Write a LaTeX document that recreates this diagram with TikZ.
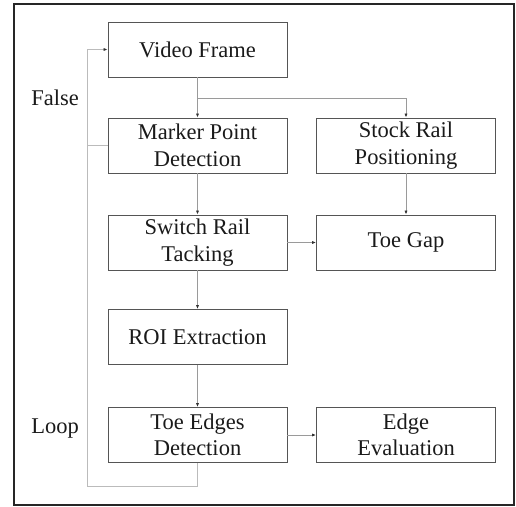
\documentclass[tikz,border=0pt]{standalone}
\usepackage{fontspec}
\setmainfont{Liberation Serif}
\usetikzlibrary{arrows.meta}
\definecolor{boxline}{HTML}{555555}
\definecolor{conn}{HTML}{9A9A9A}
\definecolor{loopc}{HTML}{BBBBBB}
\definecolor{txt}{HTML}{1A1A1A}
\begin{document}
\begin{tikzpicture}[x=1pt,y=-1pt,
  stepbox/.style={draw=boxline,line width=0.9pt,rectangle,minimum width=179pt,minimum height=55pt,
    align=center,inner sep=0pt,text=txt,font=\fontsize{22.5}{26.5}\selectfont},
  lbl/.style={text=txt,font=\fontsize{22.5}{26.5}\selectfont,inner sep=0pt},
  conn/.style={draw=conn,line width=0.8pt},
  arr/.style={conn,-{Latex[length=4pt,width=3.2pt,color=black!80]}},
  loopline/.style={draw=loopc,line width=0.9pt}]
\useasboundingbox (0,0) rectangle (516,506);
\draw[line width=1.8pt,draw=black!85] (14,4) rectangle (514,505);

\node[stepbox] (video) at (197.5,49.5) {Video Frame};
\node[stepbox] (marker) at (197.5,145.5) {Marker Point\\Detection};
\node[stepbox] (stock) at (406,145.5) {Stock Rail\\Positioning};
\node[stepbox] (switch) at (197.5,242.5) {Switch Rail\\Tacking};
\node[stepbox] (toegap) at (406,242.5) {Toe Gap};
\node[stepbox] (roi) at (197.5,337) {ROI Extraction};
\node[stepbox] (toeedges) at (197.5,435) {Toe Edges\\Detection};
\node[stepbox] (edgeeval) at (406,435) {Edge\\Evaluation};

\node[lbl] (false) at (55,98) {False};
\node[lbl] (loop) at (55,429) {Loop};

\coordinate (split) at (197.5,98);
\coordinate (splitr) at (406,98);
\coordinate (lb) at (197.5,486);
\coordinate (lbl) at (87,486);
\coordinate (lt) at (87,49.5);
\coordinate (lm) at (87,145.5);

\draw[conn] (video.south) -- (split);
\draw[arr] (split) -- (marker.north);
\draw[arr] (split) -- (splitr) -- (stock.north);
\draw[arr] (marker.south) -- (switch.north);
\draw[arr] (stock.south) -- (toegap.north);
\draw[arr] (switch.east) -- (toegap.west);
\draw[arr] (switch.south) -- (roi.north);
\draw[arr] (roi.south) -- (toeedges.north);
\draw[arr] (toeedges.east) -- (edgeeval.west);

\draw[loopline] (toeedges.south) -- (lb) -- (lbl) -- (lt);
\draw[arr,draw=loopc] (lt) -- (video.west);
\draw[loopline] (marker.west) -- (lm);
\end{tikzpicture}
\end{document}
